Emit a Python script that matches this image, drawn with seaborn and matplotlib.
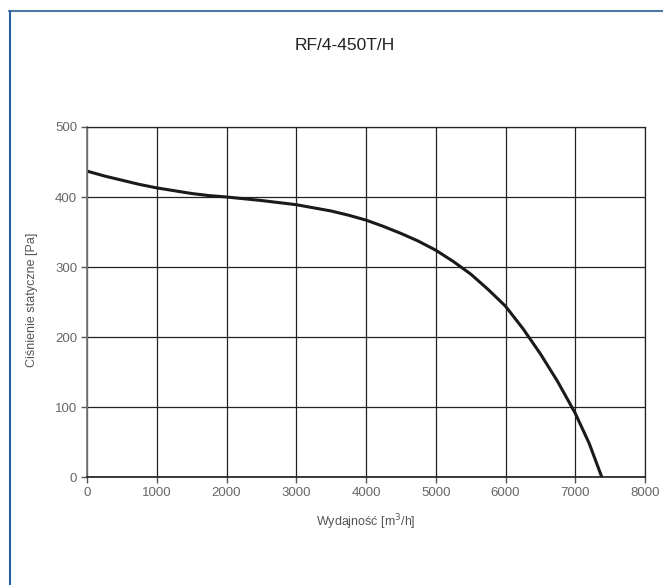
import matplotlib
matplotlib.use("Agg")
import matplotlib.pyplot as plt
import seaborn as sns
import pandas as pd
from matplotlib.lines import Line2D

sns.set_theme(style="white")
plt.rcParams['font.family'] = ['Liberation Sans Narrow', 'Liberation Sans', 'DejaVu Sans']

title = "RF/4-450T/H"
flow = [0, 250, 500, 750, 1000, 1250, 1500, 1750, 2000, 2500, 3000, 3500, 3750, 4000,
        4250, 4500, 4750, 5000, 5250, 5500, 5750, 6000, 6250, 6500, 6750, 7000, 7200, 7380]
pressure = [437, 430, 424, 418, 413, 409, 405, 402, 400, 395, 389, 380, 374, 367,
            358, 348, 337, 324, 308, 290, 268, 244, 212, 176, 136, 91, 48, 0]
xticks = [0, 1000, 2000, 3000, 4000, 5000, 6000, 7000, 8000]
yticks = [0, 100, 200, 300, 400, 500]

df = pd.DataFrame({"flow": flow, "pressure": pressure})

fig = plt.figure(figsize=(6.63, 5.85), dpi=100)
ax = fig.add_axes([87/663, 1-477/585, (645-87)/663, (477-127)/585])

sns.lineplot(data=df, x="flow", y="pressure", ax=ax, color="#1a1a1a", linewidth=2.2, sort=False)

ax.set_xlim(0, 8000)
ax.set_ylim(0, 500)
ax.set_xticks(xticks)
ax.set_yticks(yticks)
ax.grid(True, color="#222222", linewidth=0.9)
ax.spines["top"].set_color("#222222")
ax.spines["right"].set_color("#222222")
ax.spines["top"].set_linewidth(0.9)
ax.spines["right"].set_linewidth(0.9)
ax.spines["left"].set_color("#777777")
ax.spines["bottom"].set_color("#222222")
ax.tick_params(axis="both", which="both", direction="out", length=4, width=1,
               color="#555555", labelcolor="#666666", labelsize=9.5, pad=3,
               bottom=True, left=True)
ax.set_xlabel("")
ax.set_ylabel("")

fig.text(366/663, 1-522/585, "Wydajność [m$^3$/h]", ha="center", va="center", fontsize=9, color="#555555")
fig.text(32/663, 1-300/585, "Ciśnienie statyczne [Pa]", ha="center", va="center", rotation=90, fontsize=9, color="#555555")
fig.text(345/663, 1-45/585, title, ha="center", va="center", fontsize=12.5, color="#222222", fontweight="medium")

# frame border (top and left)
fig.add_artist(Line2D([9/663, 1], [1-10.5/585, 1-10.5/585], transform=fig.transFigure, color="#4a7aa8", linewidth=1.5))
fig.add_artist(Line2D([9.5/663, 9.5/663], [0, 1-10.5/585], transform=fig.transFigure, color="#2a5fa0", linewidth=1.5))

fig.savefig("out.png", dpi=100, facecolor="white")
